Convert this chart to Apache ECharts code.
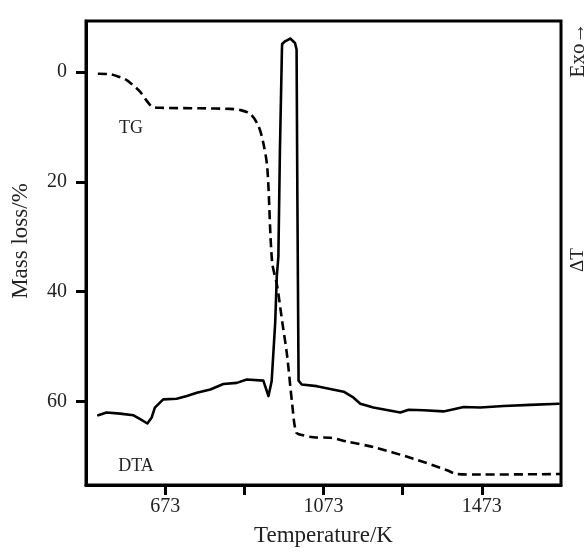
<!DOCTYPE html>
<html>
<head>
<meta charset="utf-8">
<script src="https://cdn.jsdelivr.net/npm/echarts@6/dist/echarts.min.js"></script>
<style>
html,body{margin:0;padding:0;background:#fff;}
#chart{width:588px;height:552px;}
</style>
</head>
<body>
<div id="chart"></div>
<script>
// Temperature (K) for TG curve
const tgTemp = [503, 534, 554, 572, 592, 610, 625, 640, 660, 761, 837, 862, 888, 908, 920, 931, 943, 956, 969, 981, 994, 1004, 1019, 1047, 1090, 1133, 1199, 1300, 1385, 1410, 1469, 1671];
// Mass loss (%) for TG curve
const tgVal = [0.3, 0.4, 0.8, 1.3, 2.4, 3.6, 5.1, 6.3, 6.5, 6.6, 6.7, 6.9, 7.6, 9.7, 12.6, 17.4, 34.5, 39.0, 45.6, 51.6, 60.5, 65.6, 66.1, 66.5, 66.6, 67.3, 68.3, 70.4, 72.5, 73.2, 73.3, 73.2];
// Temperature (K) for DTA curve
const dtaTemp = [504, 525, 559, 593, 610, 628, 639, 647, 668, 702, 728, 753, 787, 820, 854, 879, 921, 934, 942, 951, 955, 959, 963, 968, 968.5, 976, 989, 1001, 1005, 1007, 1010, 1018, 1056, 1090, 1124, 1149, 1166, 1199, 1267, 1288, 1326, 1376, 1402, 1427, 1469, 1528, 1595, 1667];
// DTA signal (arbitrary, drawn on hidden ΔT axis, same scale)
const dtaVal = [62.5, 62.0, 62.2, 62.5, 63.2, 64.0, 62.9, 61.1, 59.6, 59.5, 59.0, 58.4, 57.8, 56.8, 56.6, 56.0, 56.2, 59.0, 56.3, 45.6, 37.2, 33.6, 13.9, -4.1, -5.1, -5.6, -6.1, -5.3, -4.1, 22.8, 56.2, 56.9, 57.2, 57.7, 58.2, 59.3, 60.4, 61.1, 62.0, 61.5, 61.6, 61.8, 61.4, 61.0, 61.1, 60.8, 60.6, 60.4];
// Tick values
const xTicks = [673, 873, 1073, 1273, 1473];
const xLabels = [673, 1073, 1473];
const yTicks = [0, 20, 40, 60];

const FONT = 'Liberation Serif';
const chart = echarts.init(document.getElementById('chart'), null, {renderer: 'canvas'});

const tgData = tgTemp.map((t, i) => [t, tgVal[i]]);
const dtaData = dtaTemp.map((t, i) => [t, dtaVal[i]]);

chart.setOption({
  animation: false,
  backgroundColor: '#fff',
  grid: {left: 86, right: 27, top: 21, bottom: 60, show: true, borderColor: '#000', borderWidth: 3, backgroundColor: 'transparent'},
  xAxis: {
    type: 'value', min: 473, max: 1673,
    name: 'Temperature/K', nameLocation: 'middle', nameGap: 39,
    nameTextStyle: {fontFamily: FONT, fontSize: 23, color: '#222'},
    axisLine: {show: true, onZero: false, lineStyle: {color: '#000', width: 3}},
    axisTick: {show: true, customValues: xTicks, length: 10, inside: false, lineStyle: {color: '#000', width: 3}},
    axisLabel: {show: true, customValues: xLabels, margin: 12, fontFamily: FONT, fontSize: 20, color: '#222', formatter: v => String(v)},
    splitLine: {show: false}
  },
  yAxis: [{
    type: 'value', inverse: true, min: -9.3, max: 75.2,
    axisLine: {show: true, onZero: false, lineStyle: {color: '#000', width: 3}},
    axisTick: {show: true, customValues: yTicks, length: 10, inside: false, lineStyle: {color: '#000', width: 3}},
    axisLabel: {show: true, customValues: yTicks, margin: 19, fontFamily: FONT, fontSize: 20, color: '#222', formatter: v => String(v)},
    splitLine: {show: false}
  }, {
    type: 'value', inverse: true, min: -9.3, max: 75.2, position: 'right', show: false,
    splitLine: {show: false}
  }],
  series: [{
    name: 'TG', type: 'line', yAxisIndex: 0, data: tgData, symbol: 'none', smooth: 0.3,
    lineStyle: {color: '#000', width: 2.6, type: [9, 5]}
  }, {
    name: 'DTA', type: 'line', yAxisIndex: 1, data: dtaData, symbol: 'none', smooth: false,
    lineStyle: {color: '#000', width: 2.6, join: 'round', cap: 'round'}
  }],
  graphic: [
    {type: 'text', x: 21, y: 241, rotation: Math.PI / 2, style: {text: 'Mass loss/%', fontFamily: FONT, fontSize: 23, fill: '#222', align: 'center', verticalAlign: 'middle'}},
    {type: 'text', x: 578, y: 50, rotation: Math.PI / 2, style: {text: 'Exo\u2192', fontFamily: FONT, fontSize: 21, fill: '#222', align: 'center', verticalAlign: 'middle'}},
    {type: 'text', x: 578, y: 260, rotation: Math.PI / 2, style: {text: '\u0394T', fontFamily: FONT, fontSize: 19, fill: '#222', align: 'center', verticalAlign: 'middle'}},
    {type: 'text', x: 131, y: 128, style: {text: 'TG', fontFamily: FONT, fontSize: 18, fill: '#222', align: 'center', verticalAlign: 'middle'}},
    {type: 'text', x: 136, y: 466, style: {text: 'DTA', fontFamily: FONT, fontSize: 18, fill: '#222', align: 'center', verticalAlign: 'middle'}}
  ]
});
</script>
</body>
</html>
